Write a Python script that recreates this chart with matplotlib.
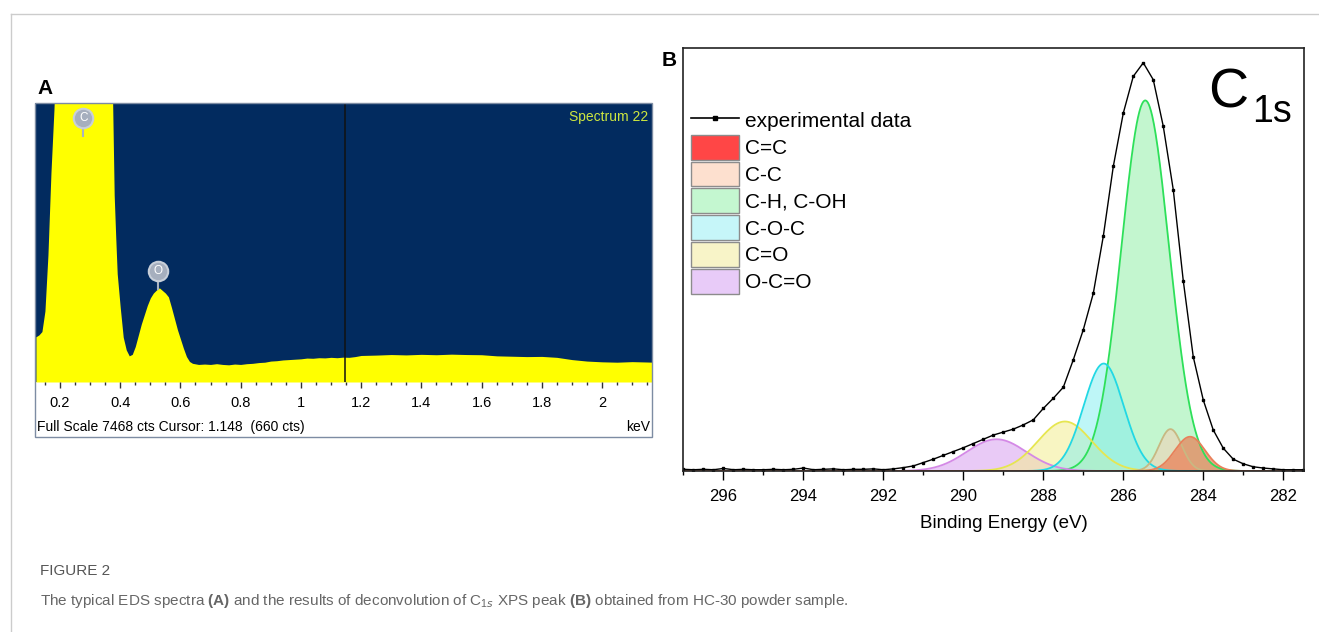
import numpy as np
import matplotlib
matplotlib.use('Agg')
import matplotlib.pyplot as plt
import matplotlib.transforms as mtransforms
from matplotlib.patches import Rectangle, Patch
from matplotlib.lines import Line2D
from matplotlib.ticker import MultipleLocator, FuncFormatter

plt.rcParams['font.family'] = ['Liberation Sans', 'DejaVu Sans']
plt.rcParams['mathtext.fontset'] = 'custom'
plt.rcParams['mathtext.rm'] = 'Liberation Sans'
plt.rcParams['mathtext.bf'] = 'Liberation Sans:bold'

# ---------------- data: (A) EDS spectrum ----------------
eds_kev = [0.12, 0.13, 0.14, 0.15, 0.16, 0.17, 0.18, 0.19, 0.25, 0.30, 0.36, 0.37,
           0.375, 0.38, 0.385, 0.39, 0.40, 0.41, 0.42, 0.43, 0.44, 0.45, 0.46, 0.47,
           0.48, 0.49, 0.50, 0.51, 0.52, 0.53, 0.54, 0.55, 0.56, 0.57, 0.58, 0.59,
           0.60, 0.61, 0.62, 0.63, 0.64, 0.66, 0.68, 0.70, 0.72, 0.74, 0.76, 0.78,
           0.80, 0.82, 0.84, 0.86, 0.88, 0.90, 0.92, 0.94, 0.96, 0.98, 1.00, 1.02,
           1.04, 1.06, 1.08, 1.10, 1.12, 1.14, 1.16, 1.18, 1.20, 1.25, 1.30, 1.35,
           1.40, 1.45, 1.50, 1.55, 1.60, 1.65, 1.70, 1.75, 1.80, 1.85, 1.90, 1.95,
           2.00, 2.05, 2.10, 2.15, 2.17]
eds_counts = [1210, 1260, 1350, 1900, 3400, 5600, 7300, 9500, 9500, 9500, 9500, 9500,
              7400, 5000, 3900, 2900, 2000, 1200, 860, 700, 740, 950, 1250, 1550,
              1800, 2050, 2250, 2380, 2460, 2520, 2450, 2380, 2280, 2000, 1700, 1400,
              1150, 900, 680, 550, 500, 470, 480, 470, 490, 470, 460, 480,
              470, 490, 500, 520, 530, 560, 570, 590, 600, 610, 620, 640,
              635, 650, 645, 660, 650, 665, 660, 680, 710, 720, 735, 725,
              740, 730, 745, 735, 730, 700, 690, 680, 685, 660, 600, 560,
              540, 530, 545, 535, 530]
full_scale = 7468
cursor_kev = 1.148
cursor_cts = 660
eds_elements = ['C', 'O']
eds_lines_kev = [0.277, 0.525]

# ---------------- data: (B) XPS C1s ----------------
xps_be = [297.0, 296.75, 296.5, 296.25, 296.0, 295.75, 295.5, 295.25, 295.0, 294.75,
          294.5, 294.25, 294.0, 293.75, 293.5, 293.25, 293.0, 292.75, 292.5, 292.25,
          292.0, 291.75, 291.5, 291.25, 291.0, 290.75, 290.5, 290.25, 290.0, 289.75,
          289.5, 289.25, 289.0, 288.75, 288.5, 288.25, 288.0, 287.75, 287.5, 287.25,
          287.0, 286.75, 286.5, 286.25, 286.0, 285.75, 285.5, 285.25, 285.0, 284.75,
          284.5, 284.25, 284.0, 283.75, 283.5, 283.25, 283.0, 282.75, 282.5, 282.25,
          282.0, 281.75, 281.5]
xps_int = [0.4, 0.3, 0.4, 0.3, 0.6, 0.3, 0.4, 0.3, 0.3, 0.4,
           0.3, 0.4, 0.7, 0.3, 0.4, 0.5, 0.3, 0.4, 0.4, 0.5,
           0.3, 0.5, 0.8, 1.2, 2.0, 2.8, 3.7, 4.6, 5.5, 6.5,
           7.5, 8.5, 9.2, 9.9, 10.9, 12.1, 14.8, 17.2, 19.8, 26.3,
           33.4, 42.0, 55.5, 72.0, 84.6, 93.3, 96.5, 92.5, 81.5, 66.5,
           45.0, 27.0, 16.8, 9.7, 5.4, 2.8, 1.7, 1.0, 0.7, 0.5,
           0.3, 0.3, 0.3]

comp_names = ['C=C', 'C-C', 'C-H, C-OH', 'C-O-C', 'C=O', 'O-C=O']
comp_center = [284.33, 284.82, 285.45, 286.49, 287.46, 289.17]
comp_height = [8.1, 9.9, 87.6, 25.4, 11.7, 7.5]
comp_fwhm = [0.88, 0.67, 1.40, 1.18, 1.58, 1.75]

fill_cols = ['#ee6a40', '#f6cfb4', '#9cf0b0', '#7eeef0', '#f4ee90', '#dba8f0']
fill_alpha = [0.6, 0.55, 0.6, 0.5, 0.55, 0.6]
line_cols = ['#e8805a', '#c8b882', '#2ee05a', '#22d8e4', '#e6e650', '#d489e6']
legend_cols = ['#ff4646', '#fde0cf', '#c4f7d0', '#c6f6f9', '#f8f4c8', '#e8cbf8']

W, H = 1319, 632
fig = plt.figure(figsize=(W / 100, H / 100), dpi=100)


def box(x0, y0, x1, y1):
    return [x0 / W, 1 - y1 / H, (x1 - x0) / W, (y1 - y0) / H]


def fx(x):
    return x / W


def fy(y):
    return 1 - y / H


# outer frame of the figure page
fig.add_artist(Line2D([fx(10.5), fx(10.5)], [0, fy(14)], color='#cccccc', lw=1,
                      transform=fig.transFigure))
fig.add_artist(Line2D([fx(10.5), 1], [fy(14), fy(14)], color='#cccccc', lw=1,
                      transform=fig.transFigure))

# ============================================================
# (A) EDS spectrum
# ============================================================
ax_a = fig.add_axes(box(35, 103, 652, 382))
ax_a.set_facecolor('#022b5f')
ax_a.fill_between(eds_kev, eds_counts, 0, color='#ffff00', lw=0)
ax_a.axvline(cursor_kev, color='#111111', lw=1.1)
ax_a.set_xlim(0.117, 2.166)
ax_a.set_ylim(0, full_scale)
for s in ax_a.spines.values():
    s.set_visible(False)
ax_a.yaxis.set_visible(False)
ax_a.xaxis.set_major_locator(MultipleLocator(0.2))
ax_a.xaxis.set_minor_locator(MultipleLocator(0.05))
ax_a.xaxis.set_major_formatter(FuncFormatter(lambda v, p: f'{v:g}'))
ax_a.tick_params(axis='x', which='major', direction='out', length=4, width=1,
                 color='#333333', labelsize=10.5, pad=6)
ax_a.tick_params(axis='x', which='minor', direction='out', length=2.5, width=1,
                 color='#333333')

# element markers
trans = mtransforms.blended_transform_factory(ax_a.transData, ax_a.transAxes)
for el, e in zip(eds_elements, eds_lines_kev):
    peak = min(np.interp(e, eds_kev, eds_counts) / full_scale, 0.88)
    yc = peak + 0.065
    ax_a.plot([e, e], [yc, peak], color='#a9b3c1', lw=1.5, transform=trans)
    ax_a.plot(e, yc, marker='o', ms=14, mfc='#a6afbe', mec='#c8cfd9', mew=1.5,
              transform=trans)
    ax_a.text(e, yc, el, color='white', fontsize=8.5, ha='center', va='center',
              transform=trans)

ax_a.text(0.9935, 0.95, 'Spectrum 22', transform=ax_a.transAxes, ha='right',
          va='center', color='#cde640', fontsize=10)

fig.add_artist(Rectangle((fx(35), fy(437)), (652 - 35) / W, (437 - 103) / H,
                         transform=fig.transFigure, fill=False, ec='#7d8ca3', lw=1))
fig.text(fx(37), fy(427), f'Full Scale {full_scale} cts Cursor: {cursor_kev:.3f}  ({cursor_cts} cts)',
         ha='left', va='center', fontsize=10)
fig.text(fx(650), fy(427), 'keV', ha='right', va='center', fontsize=10)
fig.text(fx(37), fy(88), 'A', ha='left', va='center', fontsize=15, fontweight='bold')

# ============================================================
# (B) XPS C1s deconvolution
# ============================================================
ax_b = fig.add_axes(box(682.7, 48, 1304, 471))
be = np.linspace(281.4, 297.1, 1500)
draw_order = [2, 5, 4, 3, 1, 0]
for i in draw_order:
    prof = comp_height[i] * np.exp(-4 * np.log(2) * ((be - comp_center[i]) / comp_fwhm[i]) ** 2)
    ax_b.fill_between(be, prof, 0, color=fill_cols[i], alpha=fill_alpha[i], lw=0)
    ax_b.plot(be, prof, color=line_cols[i], lw=1.3)
ax_b.plot(xps_be, xps_int, color='black', lw=1.0, marker='s', ms=1.8)

ax_b.set_xlim(297.02, 281.48)
ax_b.set_ylim(0, 100)
ax_b.set_yticks([])
ax_b.xaxis.set_major_locator(MultipleLocator(2))
ax_b.xaxis.set_minor_locator(MultipleLocator(1))
ax_b.xaxis.set_major_formatter(FuncFormatter(lambda v, p: f'{v:g}'))
ax_b.tick_params(axis='x', which='major', direction='out', length=6.5, width=1,
                 labelsize=12, pad=6.5)
ax_b.tick_params(axis='x', which='minor', direction='out', length=3, width=1)
for s in ax_b.spines.values():
    s.set_linewidth(1.2)
    s.set_color('#222222')

fig.text(fx(1004), fy(524), 'Binding Energy (eV)', ha='center', va='center', fontsize=13.5)
fig.text(fx(1208), fy(108), 'C', ha='left', va='baseline', fontsize=40)
fig.text(fx(1252), fy(122), '1s', ha='left', va='baseline', fontsize=27)
fig.text(fx(662), fy(60), 'B', ha='left', va='center', fontsize=15, fontweight='bold')

handles = [Line2D([], [], color='black', lw=1.2, marker='s', ms=2.5)]
handles += [Patch(facecolor=c, edgecolor='#8c8c8c', lw=1) for c in legend_cols]
labels = ['experimental data'] + comp_names
fig.legend(handles, labels, loc='upper left', bbox_to_anchor=(fx(691), fy(108)),
           frameon=False, fontsize=15, handlelength=2.3, handleheight=1.45,
           handletextpad=0.3, labelspacing=0.1, borderpad=0, borderaxespad=0)

# ============================================================
# caption
# ============================================================
fig.text(fx(40), fy(571), 'FIGURE 2', ha='left', va='center', fontsize=11, color='#555555')
fig.text(fx(40), fy(601),
         r'The typical EDS spectra $\mathbf{(A)}$ and the results of deconvolution of '
         r'C$_{1s}$ XPS peak $\mathbf{(B)}$ obtained from HC-30 powder sample.',
         ha='left', va='center', fontsize=11, color='#666666')

fig.savefig('out.png', dpi=100)
